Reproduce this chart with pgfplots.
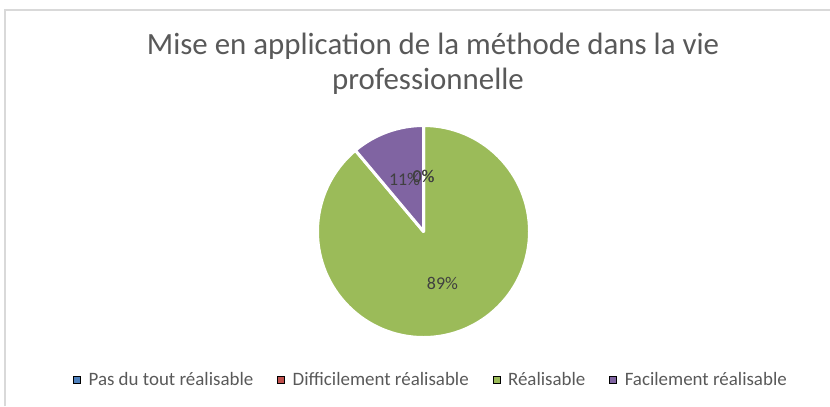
\documentclass[border=0pt]{standalone}
\usepackage{fontspec}
\setmainfont{Carlito}
\usepackage{pgfplots}
\usepackage{pgfplotstable}
\pgfplotsset{compat=1.18}

\definecolor{pblue}{HTML}{4F81BD}
\definecolor{pred}{HTML}{C0504D}
\definecolor{pgreen}{HTML}{9BBB59}
\definecolor{ppurple}{HTML}{8064A2}
\definecolor{titlegray}{HTML}{595959}
\definecolor{labelgray}{HTML}{404040}
\definecolor{framegray}{HTML}{D9D9D9}

\pgfplotstableread[col sep=comma]{
label,value
Pas du tout réalisable,0
Difficilement réalisable,0
Réalisable,8
Facilement réalisable,1
}\piedata

\begin{document}
\begin{tikzpicture}
% angles of the slices, clockwise from 12 o'clock
\pgfplotstablegetrowsof{\piedata}
\pgfmathtruncatemacro\nrows{\pgfplotsretval-1}
\xdef\total{0}
\foreach \i in {0,...,\nrows}{
  \pgfplotstablegetelem{\i}{value}\of\piedata
  \pgfmathsetmacro\t{\total+\pgfplotsretval}
  \xdef\total{\t}
}
\xdef\cur{90}
\foreach \i in {0,...,\nrows}{
  \pgfplotstablegetelem{\i}{value}\of\piedata
  \let\v\pgfplotsretval
  \pgfmathsetmacro\sweep{360*\v/\total}
  \pgfmathsetmacro\e{\cur-\sweep}
  \pgfmathsetmacro\m{\cur-\sweep/2}
  \pgfmathtruncatemacro\pc{round(100*\v/\total)}
  \expandafter\xdef\csname sa\i\endcsname{\cur}
  \expandafter\xdef\csname ea\i\endcsname{\e}
  \expandafter\xdef\csname ma\i\endcsname{\m}
  \expandafter\xdef\csname pc\i\endcsname{\pc}
  \xdef\cur{\e}
}
\def\slicecol#1{\ifcase#1 pblue\or pred\or pgreen\else ppurple\fi}

\begin{axis}[
    x=1bp, y=1bp,
    xmin=0, xmax=830, ymin=0, ymax=406,
    y dir=reverse,
    hide axis, clip=false,
    legend image code/.code={\fill (0bp,-3.5bp) rectangle (7bp,3.5bp);},
    legend style={at={(axis cs:431,380)}, anchor=center,
        draw=none, fill=none, text=titlegray,
        font=\fontsize{19}{19}\selectfont,
        legend columns=-1,
        /tikz/every odd column/.append style={column sep=6bp},
        /tikz/every even column/.append style={column sep=22bp}},
]
\addlegendimage{fill=pblue}
\addlegendentry{Pas du tout réalisable}
\addlegendimage{fill=pred}
\addlegendentry{Difficilement réalisable}
\addlegendimage{fill=pgreen}
\addlegendentry{Réalisable}
\addlegendimage{fill=ppurple}
\addlegendentry{Facilement réalisable}

\coordinate (bbA) at (axis cs:0,0);
\coordinate (bbB) at (axis cs:830,406);

% frame of the chart area
\draw[framegray, line width=2bp] (axis cs:5,406) -- (axis cs:5,10) -- (axis cs:830,10);

% title
\node[anchor=base, text=titlegray, font=\fontsize{31}{31}\selectfont]
  at (axis cs:433,54) {Mise en application de la méthode dans la vie};
\node[anchor=base, text=titlegray, font=\fontsize{31}{31}\selectfont]
  at (axis cs:428,89) {professionnelle};

% slices
\pgfplotsinvokeforeach{0,1,2,3}{
  \fill[fill=\slicecol{#1}, draw=white, line width=3bp, line join=round]
    (axis cs:423.5,231.5) -- ++(\csname sa#1\endcsname:106bp)
    arc[start angle=\csname sa#1\endcsname, end angle=\csname ea#1\endcsname, radius=106bp]
    -- cycle;
}
% data labels
\pgfplotsinvokeforeach{0,1,2,3}{
  \node[text=labelgray, font=\fontsize{18}{18}\selectfont, inner sep=0pt]
    at ([shift={(\csname ma#1\endcsname:55.5bp)}]axis cs:423.5,231.5)
    {\csname pc#1\endcsname\%};
}
\end{axis}
\pgfresetboundingbox
\path[use as bounding box] (bbA) rectangle (bbB);
\end{tikzpicture}
\end{document}
